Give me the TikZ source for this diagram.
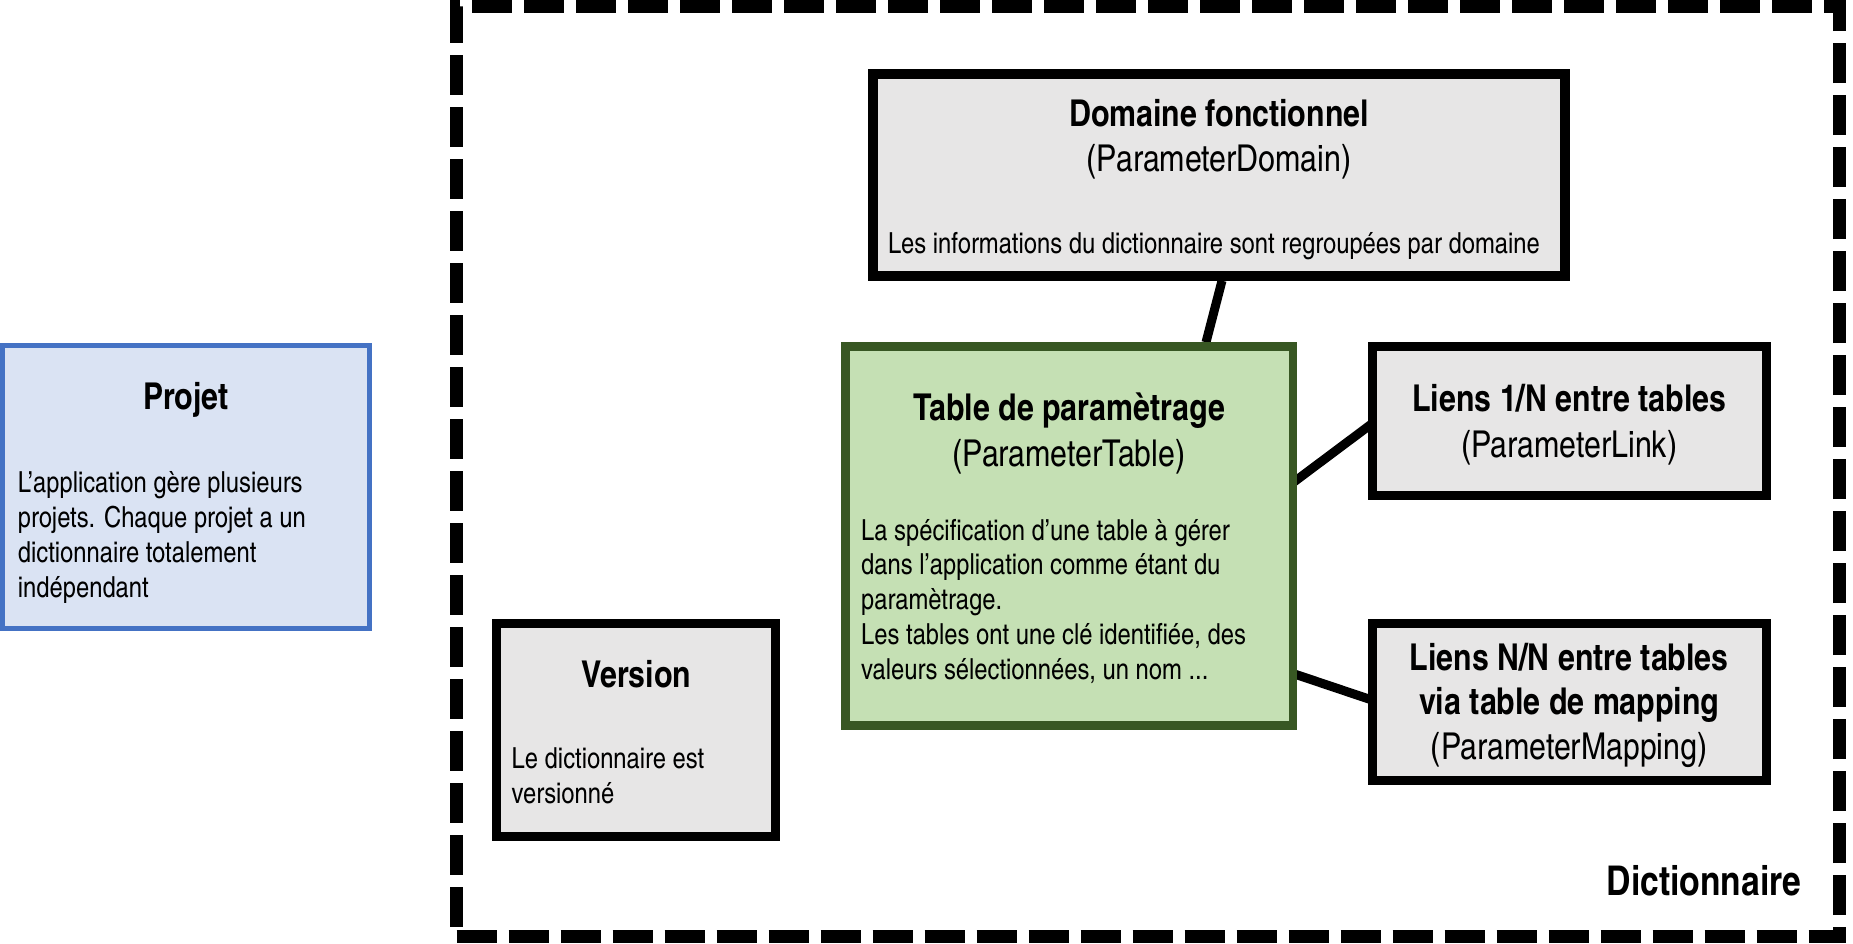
\documentclass[tikz,border=0pt]{standalone}
\usepackage{fontspec}
\setmainfont{TeX Gyre Heros Cn}
\usetikzlibrary{backgrounds}
\definecolor{boxgray}{HTML}{E7E6E6}
\definecolor{projblue}{HTML}{4472C4}
\definecolor{projfill}{HTML}{DAE3F3}
\definecolor{tabgreen}{HTML}{385723}
\definecolor{tabfill}{HTML}{C5E0B4}
\begin{document}
\begin{tikzpicture}[x=1pt,y=-1pt,
  box/.style={draw=black, line width=9pt, fill=boxgray, inner sep=0pt, outer sep=0pt},
  ttl/.style={font=\fontsize{37}{44}\selectfont\bfseries, inner sep=0pt, anchor=base},
  sub/.style={font=\fontsize{37}{44}\selectfont, inner sep=0pt, anchor=base},
  body/.style={font=\fontsize{29}{35}\selectfont, inner sep=0pt, anchor=base west},
  link/.style={draw=black, line width=9pt}]
\useasboundingbox (0,0) rectangle (1853,943);
% container
\node[draw=black, line width=13pt, dash pattern=on 40pt off 12pt, minimum width=1382.6pt, minimum height=930.1pt, inner sep=0pt, outer sep=0pt] (dico) at (1147.9,471.45) {};
% boxes
\node[box, minimum width=692pt, minimum height=202.2pt, line width=9.5pt] (dom) at (1219,174.9) {};
\node[box, draw=tabgreen, fill=tabfill, line width=8.5pt, minimum width=447.5pt, minimum height=379pt] (tab) at (1069,536) {};
\node[box, minimum width=393.9pt, minimum height=149pt] (lun) at (1569.25,421.3) {};
\node[box, minimum width=393.9pt, minimum height=157pt] (lnn) at (1569.25,701.7) {};
\node[box, minimum width=279.3pt, minimum height=213.6pt] (ver) at (636.2,730) {};
\node[box, draw=projblue, fill=projfill, line width=5pt, minimum width=367pt, minimum height=283pt] (proj) at (186,487) {};
% connectors (behind the boxes)
\begin{pgfonlayer}{background}
\draw[link] ([xshift=3pt,yshift=-4.7pt]dom.south) -- ([xshift=137pt,yshift=4.2pt]tab.north);
\draw[link] ([xshift=-4.2pt,yshift=50pt]tab.east) -- ([xshift=4.5pt,yshift=1.3pt]lun.west);
\draw[link] ([xshift=-4.2pt,yshift=-136pt]tab.east) -- ([xshift=4.5pt]lnn.west);
\end{pgfonlayer}
% Projet
\node[ttl] (projT) at (186,409.3) {Projet};
\node[body] (projB1) at (17.7,492) {L’application gère plusieurs};
\node[body] (projB2) at (17.7,527) {projets. Chaque projet a un};
\node[body] (projB3) at (17.7,562) {dictionnaire totalement};
\node[body] (projB4) at (17.7,597) {indépendant};
% Version
\node[ttl] (verT) at (636.2,687) {Version};
\node[body] (verB1) at (511.5,768) {Le dictionnaire est};
\node[body] (verB2) at (511.5,803) {versionné};
% Domaine
\node[ttl] (domT) at (1219,126.7) {Domaine fonctionnel};
\node[sub] (domS) at (1219,171.7) {(ParameterDomain)};
\node[body] (domB) at (887.8,253.3) {Les informations du dictionnaire sont regroupées par domaine};
% Table
\node[ttl] (tabT) at (1069,420.7) {Table de paramètrage};
\node[sub] (tabS) at (1069,466) {(ParameterTable)};
\node[body] (tabB1) at (861,540.3) {La spécification d’une table à gérer};
\node[body] (tabB2) at (861,574.7) {dans l’application comme étant du};
\node[body] (tabB3) at (861,609.7) {paramètrage.};
\node[body] (tabB4) at (861,644.7) {Les tables ont une clé identifiée, des};
\node[body] (tabB5) at (861,679.3) {valeurs sélectionnées, un nom ...};
% Liens 1/N
\node[ttl] (lunT) at (1569.25,411.7) {Liens 1/N entre tables};
\node[sub] (lunS) at (1569.25,457) {(ParameterLink)};
% Liens N/N
\node[ttl] (lnnT1) at (1569.25,670.3) {Liens N/N entre tables};
\node[ttl] (lnnT2) at (1569.25,714) {via table de mapping};
\node[sub] (lnnS) at (1569.25,759.3) {(ParameterMapping)};
% label
\node[ttl, font=\fontsize{41}{48}\selectfont\bfseries, anchor=base east] (dictL) at (1801.4,895.3) {Dictionnaire};
\end{tikzpicture}
\end{document}
